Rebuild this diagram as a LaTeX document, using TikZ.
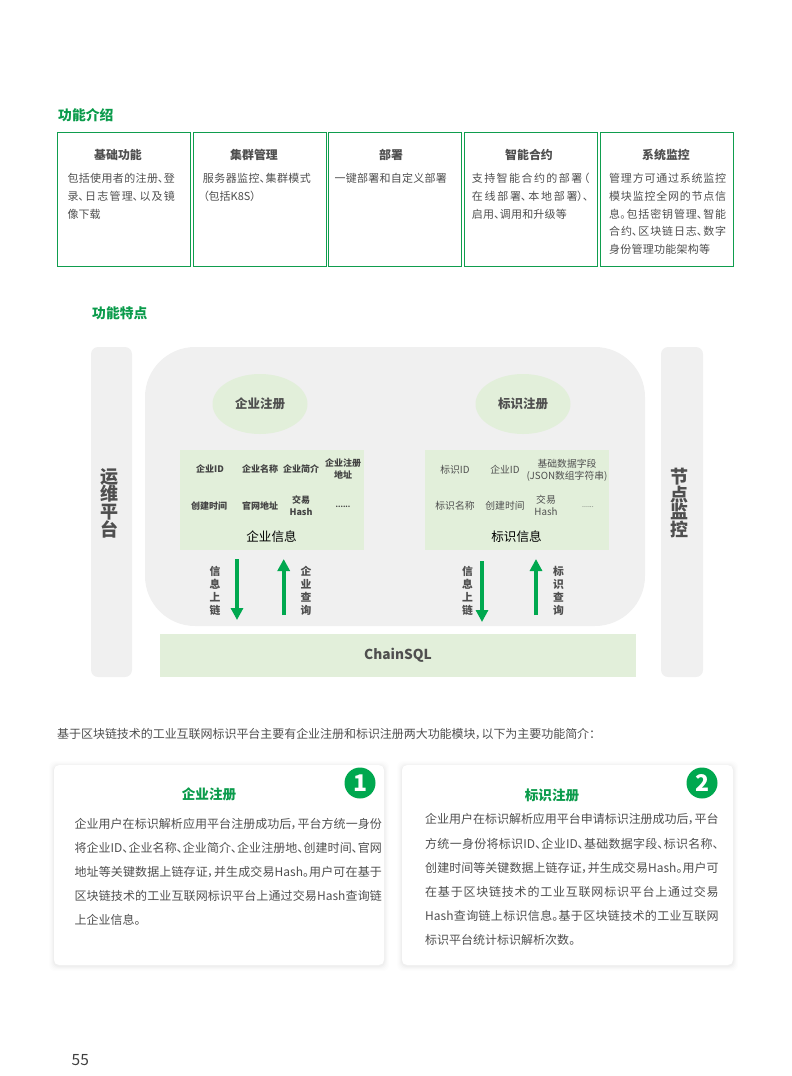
\documentclass[tikz,border=0pt]{standalone}
\usepackage{fontspec}
\usetikzlibrary{shapes.geometric,arrows.meta}
\setmainfont{Noto Sans CJK SC}[RawFeature={+palt}]
\XeTeXlinebreaklocale "zh"
\XeTeXlinebreakskip=0pt plus 4pt minus 0.6pt
\definecolor{txtgray}{HTML}{4F4F4F}
\definecolor{headgreen}{HTML}{0A9B4B}
\definecolor{framegreen}{HTML}{0F9D4E}
\definecolor{arrowgreen}{HTML}{00A84F}
\definecolor{panelgray}{HTML}{F0F0F0}
\definecolor{palegreen}{HTML}{E2EFDA}
\tikzset{
  areabox/.style={inner sep=0pt,outer sep=0pt,text=txtgray},
  framebox/.style={areabox,draw=framegreen,line width=1pt,fill=white},
  graybar/.style={areabox,fill=panelgray,rounded corners=7pt},
  graypanel/.style={areabox,fill=panelgray,rounded corners=50pt},
  greenbox/.style={areabox,fill=palegreen},
  cardbox/.style={areabox,fill=white,rounded corners=5pt},
  regbubble/.style={ellipse,fill=palegreen,inner sep=0pt,minimum width=95pt,minimum height=60pt,text=txtgray,font=\fontsize{12.5}{14}\selectfont\bfseries},
  heading/.style={anchor=base west,yshift=-5pt,inner sep=0pt,text=headgreen,font=\fontsize{13.8}{16}\selectfont\bfseries},
  boxtitle/.style={anchor=base,yshift=-4.3pt,inner sep=0pt,text=txtgray,font=\fontsize{11.9}{14}\selectfont\bfseries},
  boxline/.style={anchor=base west,yshift=-4pt,inner sep=0pt,text=txtgray,font=\fontsize{11}{13}\selectfont},
  cardline/.style={anchor=base west,yshift=-4.4pt,inner sep=0pt,text=txtgray,font=\fontsize{12}{14}\selectfont},
  cardtitle/.style={anchor=base,yshift=-5.3pt,inner sep=0pt,text=headgreen,font=\fontsize{13.6}{16}\selectfont\bfseries},
  smallbold/.style={align=center,inner sep=0pt,text=txtgray!85!black,font=\fontsize{9}{12}\selectfont\bfseries},
  smallreg/.style={align=center,inner sep=0pt,text=txtgray,font=\fontsize{9.8}{12}\selectfont},
  infotitle/.style={inner sep=0pt,text=black,font=\fontsize{12.6}{15}\selectfont},
  vertsmall/.style={align=center,inner sep=0pt,text=txtgray,font=\fontsize{10.8}{13}\selectfont\bfseries},
  vertbig/.style={align=center,inner sep=0pt,text=txtgray,font=\fontsize{18}{17.6}\selectfont\bfseries},
  badge/.style={circle,fill=arrowgreen,minimum size=31pt,inner sep=0pt,text=white,font=\fontsize{23}{24}\selectfont\bfseries},
  blockarrow/.style={draw=arrowgreen,line width=4pt,-{Triangle[width=12pt,length=12pt]}},
  chainlabel/.style={areabox,font=\fontsize{13.7}{16}\selectfont\bfseries}
}
% \bx{name}{x1}{y1}{x2}{y2}{style}{text}
\newcommand{\bx}[7]{%
  \pgfmathsetmacro{\bxw}{#4-#2}\pgfmathsetmacro{\bxh}{#5-#3}%
  \pgfmathsetmacro{\bxx}{(#2+#4)/2}\pgfmathsetmacro{\bxy}{(#3+#5)/2}%
  \node[#6,minimum width=\bxw pt,minimum height=\bxh pt] (#1) at (\bxx,\bxy) {#7};}
% \jl{name}{style}{x}{y}{width}{text}: one line set to the given width
\newcommand{\jl}[6]{\node[#2] (#1) at (#3,#4) {\parbox[b]{#5pt}{\parfillskip=0pt\relax\tolerance=10000\hbadness=10000\hfuzz=3pt\emergencystretch=0pt #6}};}
% \tl{name}{style}{x}{y}{text}: line at its natural width
\newcommand{\tl}[5]{\node[#2] (#1) at (#3,#4) {#5};}
\begin{document}
\begin{tikzpicture}[x=1pt,y=-1pt]
\useasboundingbox (0,0) rectangle (792,1076);
% --- 功能介绍
\tl{hA}{heading}{58}{115}{功能介绍}
\bx{b1}{57.5}{132.5}{190.5}{266.5}{framebox}{}
\bx{b2}{193}{132.5}{326.5}{266.5}{framebox}{}
\bx{b3}{328.5}{132.5}{461.5}{266.5}{framebox}{}
\bx{b4}{464}{132.5}{597}{266.5}{framebox}{}
\bx{b5}{600.5}{132.5}{733.5}{266.5}{framebox}{}
\tl{t1}{boxtitle}{118}{155}{基础功能}
\tl{t2}{boxtitle}{254}{155}{集群管理}
\tl{t3}{boxtitle}{391}{155}{部署}
\tl{t4}{boxtitle}{529}{155}{智能合约}
\tl{t5}{boxtitle}{666}{155}{系统监控}
\jl{l11}{boxline}{67.3}{178}{107.4}{包括使用者的注册、登}
\jl{l12}{boxline}{67.3}{196}{107.4}{录、日志管理、以及镜}
\tl{l13}{boxline}{67.3}{214}{像下载}
\jl{l21}{boxline}{202.7}{178}{108}{服务器监控、集群模式}
\tl{l22}{boxline}{203}{196}{（包括K8S）}
\jl{l31}{boxline}{334.3}{178}{112.4}{一键部署和自定义部署}
\jl{l41}{boxline}{471.7}{178}{117.3}{支持智能合约的部署（}
\jl{l42}{boxline}{471.7}{196}{116.6}{在线部署、本地部署）、}
\jl{l43}{boxline}{471.7}{214}{95}{启用、调用和升级等}
\jl{l51}{boxline}{609}{178}{117}{管理方可通过系统监控}
\jl{l52}{boxline}{609}{196}{117}{模块监控全网的节点信}
\jl{l53}{boxline}{609}{214}{117}{息。包括密钥管理、智能}
\jl{l54}{boxline}{609}{231.5}{117}{合约、区块链日志、数字}
\jl{l55}{boxline}{609}{249}{101}{身份管理功能架构等}
% --- 功能特点
\tl{hB}{heading}{92}{313}{功能特点}
\bx{opsbar}{91}{347}{132}{677}{graybar}{}
\bx{nodebar}{661}{347}{703}{677}{graybar}{}
\bx{panel}{145}{347}{645}{626}{graypanel}{}
\bx{chain}{160}{634}{636}{677}{greenbox,chainlabel}{ChainSQL}
\node[vertbig] (opslabel) at (109,503) {运\\维\\平\\台};
\node[vertbig] (nodelabel) at (679.5,503) {节\\点\\监\\控};
\node[regbubble] (regA) at (260,404) {企业注册};
\node[regbubble] (regB) at (523,404) {标识注册};
\bx{infoA}{180}{450}{364}{550}{greenbox}{}
\bx{infoB}{425}{450}{609}{550}{greenbox}{}
\node[smallbold] (a1) at (210,469) {企业ID};
\node[smallbold] (a2) at (260,469) {企业名称};
\node[smallbold] (a3) at (301,469) {企业简介};
\node[smallbold] (a4) at (343,469) {企业注册\\地址};
\node[smallbold] (a5) at (209,506) {创建时间};
\node[smallbold] (a6) at (260,506) {官网地址};
\node[smallbold] (a7) at (301,505.5) {交易\\Hash};
\node[smallbold] (a8) at (343,507) {\fontsize{7}{8}\selectfont ......};
\node[infotitle] (aT) at (271.5,537) {企业信息};
\node[smallreg] (c1) at (455,469.5) {标识ID};
\node[smallreg] (c2) at (505,469.5) {企业ID};
\node[smallreg] (c3) at (567,470) {基础数据字段\\(JSON数组字符串)};
\node[smallreg] (c5) at (455,506) {标识名称};
\node[smallreg] (c6) at (505,506) {创建时间};
\node[smallreg] (c7) at (546,505.5) {交易\\Hash};
\node[smallreg] (c8) at (588,507) {\fontsize{7}{8}\selectfont ......};
\node[infotitle] (cT) at (516.5,537) {标识信息};
\coordinate (d1s) at (237,559); \coordinate (d1e) at (237,620);
\coordinate (u1s) at (283.7,615); \coordinate (u1e) at (283.7,559);
\coordinate (d2s) at (482,561); \coordinate (d2e) at (482,622);
\coordinate (u2s) at (536,615); \coordinate (u2e) at (536,559);
\draw[blockarrow] (d1s) -- (d1e);
\draw[blockarrow] (u1s) -- (u1e);
\draw[blockarrow] (d2s) -- (d2e);
\draw[blockarrow] (u2s) -- (u2e);
\node[vertsmall] (v1) at (215,591) {信\\息\\上\\链};
\node[vertsmall] (v2) at (306,591) {企\\业\\查\\询};
\node[vertsmall] (v3) at (467.5,591) {信\\息\\上\\链};
\node[vertsmall] (v4) at (558.5,591) {标\\识\\查\\询};
% --- 说明
\jl{para}{cardline}{57}{734}{538}{基于区块链技术的工业互联网标识平台主要有企业注册和标识注册两大功能模块，以下为主要功能简介：}
\foreach \i/\o in {5/.006,4/.008,3/.012,2/.016,1/.02}{
  \fill[black,opacity=\o,rounded corners=6pt] (54-\i,765-\i+1) rectangle (384+\i,965+\i+1);
  \fill[black,opacity=\o,rounded corners=6pt] (402-\i,765-\i+1) rectangle (733+\i,965+\i+1);
}
\bx{cardA}{54}{765}{384}{965}{cardbox}{}
\bx{cardB}{402}{765}{733}{965}{cardbox}{}
\node[badge] (n1) at (360,783) {1};
\node[badge] (n2) at (702,783) {2};
\tl{ca}{cardtitle}{209}{794}{企业注册}
\tl{cb}{cardtitle}{552}{795}{标识注册}
\jl{p1}{cardline}{74.3}{824}{307.4}{企业用户在标识解析应用平台注册成功后，平台方统一身份}
\jl{p2}{cardline}{74.3}{848}{307.4}{将企业ID、企业名称、企业简介、企业注册地、创建时间、官网}
\jl{p3}{cardline}{74.3}{872}{307.4}{地址等关键数据上链存证，并生成交易Hash。用户可在基于}
\jl{p4}{cardline}{74.3}{896}{307.4}{区块链技术的工业互联网标识平台上通过交易Hash查询链}
\tl{p5}{cardline}{74.3}{920}{上企业信息。}
\jl{q1}{cardline}{425}{819}{293.4}{企业用户在标识解析应用平台申请标识注册成功后，平台}
\jl{q2}{cardline}{425}{844}{293.4}{方统一身份将标识ID、企业ID、基础数据字段、标识名称、}
\jl{q3}{cardline}{425}{868}{293.4}{创建时间等关键数据上链存证，并生成交易Hash。用户可}
\jl{q4}{cardline}{425}{892}{293.4}{在基于区块链技术的工业互联网标识平台上通过交易}
\jl{q5}{cardline}{425}{916}{293.4}{Hash查询链上标识信息。基于区块链技术的工业互联网}
\tl{q6}{cardline}{425}{940}{标识平台统计标识解析次数。}
% --- 页码
\node[anchor=base west,inner sep=0pt,text=txtgray!80!black,font=\fontsize{15.5}{18}\selectfont] (pageno) at (71.5,1065) {55};
\end{tikzpicture}
\end{document}
